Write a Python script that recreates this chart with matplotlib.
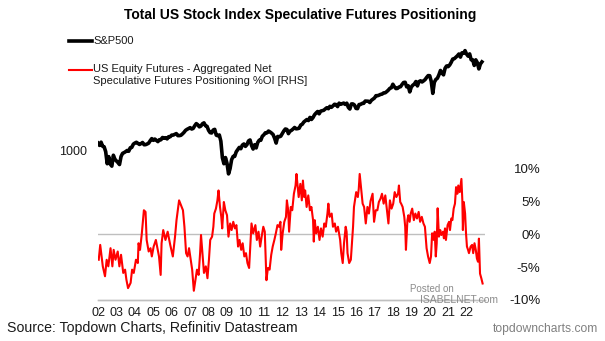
import numpy as np
import matplotlib.pyplot as plt
from matplotlib.lines import Line2D
from matplotlib.ticker import NullLocator

plt.rcParams["font.family"] = ["Liberation Sans", "DejaVu Sans"]

# ==========================
# data
# ==========================

# S&P500, month-end levels from Jan 2002
sp500_first_year = 2002.0
sp500 = [
    1130, 1090, 1147, 1077, 1067, 990, 820, 916, 815, 790, 936, 880,      # 2002
    856, 835, 810, 917, 964, 975, 990, 1008, 996, 1051, 1058, 1112,       # 2003
    1131, 1145, 1126, 1107, 1121, 1141, 1102, 1104, 1115, 1130, 1174, 1212,
    1181, 1204, 1181, 1157, 1192, 1191, 1234, 1220, 1229, 1207, 1249, 1248,
    1280, 1281, 1295, 1311, 1270, 1270, 1277, 1304, 1336, 1378, 1401, 1418,
    1438, 1407, 1421, 1482, 1531, 1503, 1455, 1474, 1527, 1549, 1481, 1468,
    1379, 1331, 1323, 1386, 1400, 1280, 1267, 1283, 1165, 900, 820, 903,  # 2008
    826, 700, 760, 873, 919, 919, 987, 1021, 1057, 1036, 1096, 1115,      # 2009
    1074, 1104, 1169, 1187, 1089, 1031, 1102, 1049, 1141, 1183, 1181, 1258,
    1286, 1327, 1326, 1364, 1345, 1321, 1292, 1219, 1131, 1253, 1247, 1258,
    1312, 1366, 1408, 1398, 1310, 1362, 1379, 1407, 1441, 1412, 1416, 1426,
    1498, 1515, 1569, 1598, 1631, 1606, 1686, 1633, 1682, 1757, 1806, 1848,
    1783, 1859, 1872, 1884, 1924, 1960, 1931, 2003, 1972, 2018, 2068, 2059,
    1995, 2105, 2068, 2086, 2107, 2063, 2104, 1972, 1920, 2079, 2080, 2044,
    1940, 1932, 2060, 2065, 2097, 2099, 2174, 2171, 2168, 2126, 2199, 2239,
    2279, 2364, 2363, 2384, 2412, 2423, 2470, 2472, 2519, 2575, 2648, 2674,
    2824, 2714, 2641, 2648, 2705, 2718, 2816, 2902, 2914, 2712, 2760, 2507,
    2704, 2784, 2834, 2946, 2752, 2942, 2980, 2926, 2977, 3038, 3141, 3231,
    3226, 2954, 2450, 2912, 3044, 3100, 3271, 3500, 3363, 3270, 3622, 3756,  # 2020
    3714, 3811, 3973, 4181, 4204, 4298, 4395, 4523, 4308, 4605, 4567, 4766,
    4516, 4374, 4530, 4132, 4132, 3785, 4130, 3955, 3586, 3872, 4000,        # 2022
]

# US equity futures net speculative positioning, % of open interest
red_years = [
    2002.04, 2002.12, 2002.26, 2002.38, 2002.47, 2002.56, 2002.68, 2002.78, 2002.85, 2002.95,
    2003.07, 2003.16, 2003.25, 2003.37, 2003.47, 2003.54, 2003.63, 2003.77, 2003.85, 2003.94,
    2004.06, 2004.16, 2004.2, 2004.28, 2004.37, 2004.49, 2004.58, 2004.64, 2004.75, 2004.85, 2004.92,
    2005.02, 2005.14, 2005.31, 2005.4, 2005.45, 2005.54, 2005.66, 2005.78, 2005.92,
    2006.06, 2006.18, 2006.26, 2006.4, 2006.61, 2006.69, 2006.78, 2006.86, 2006.94,
    2007.03, 2007.11, 2007.2, 2007.29, 2007.37, 2007.46, 2007.54, 2007.59, 2007.68, 2007.75, 2007.85, 2007.94,
    2008.02, 2008.09, 2008.19, 2008.26, 2008.31, 2008.4, 2008.48, 2008.54, 2008.62, 2008.69, 2008.74, 2008.83, 2008.91,
    2009.0, 2009.08, 2009.17, 2009.25, 2009.34, 2009.43, 2009.51, 2009.6, 2009.68, 2009.77, 2009.85, 2009.94,
    2010.03, 2010.11, 2010.2, 2010.28, 2010.33, 2010.42, 2010.54, 2010.62, 2010.71, 2010.8, 2010.88, 2010.97,
    2011.05, 2011.14, 2011.22, 2011.31, 2011.4, 2011.48, 2011.57, 2011.65, 2011.74, 2011.82, 2011.9, 2011.94,
    2012.02, 2012.11, 2012.2, 2012.25, 2012.32, 2012.37, 2012.46, 2012.54, 2012.63, 2012.72, 2012.77, 2012.84, 2012.89, 2012.98,
    2013.06, 2013.12, 2013.19, 2013.24, 2013.32, 2013.41, 2013.5, 2013.58, 2013.67, 2013.71, 2013.76, 2013.84, 2013.93,
    2014.02, 2014.1, 2014.19, 2014.28, 2014.36, 2014.45, 2014.5, 2014.57, 2014.68, 2014.75, 2014.85, 2014.92,
    2015.02, 2015.14, 2015.2, 2015.28, 2015.35, 2015.44, 2015.49, 2015.54, 2015.63, 2015.72, 2015.79, 2015.84, 2015.89,
    2016.01, 2016.1, 2016.15, 2016.2, 2016.27, 2016.36, 2016.44, 2016.53, 2016.62, 2016.7, 2016.79, 2016.9, 2016.98,
    2017.07, 2017.16, 2017.24, 2017.33, 2017.41, 2017.5, 2017.59, 2017.67, 2017.76, 2017.84, 2017.93,
    2018.02, 2018.1, 2018.19, 2018.28, 2018.33, 2018.4, 2018.45, 2018.53, 2018.62, 2018.67, 2018.71, 2018.79, 2018.84, 2018.91, 2018.97,
    2019.05, 2019.14, 2019.22, 2019.31, 2019.4, 2019.48, 2019.57, 2019.66, 2019.74, 2019.83, 2019.91,
    2020.0, 2020.07, 2020.13, 2020.22, 2020.27, 2020.33, 2020.38, 2020.43, 2020.5, 2020.57, 2020.63, 2020.72, 2020.77, 2020.83, 2020.88, 2020.97,
    2021.05, 2021.1, 2021.17, 2021.23, 2021.3, 2021.37, 2021.43, 2021.5, 2021.55, 2021.63, 2021.72, 2021.77, 2021.8, 2021.85, 2021.92, 2021.97,
    2022.02, 2022.08, 2022.13, 2022.22, 2022.3, 2022.36, 2022.43, 2022.5, 2022.56, 2022.62, 2022.67, 2022.73, 2022.8, 2022.87,
]
red_pct = [
    -3.9, -1.65, -4.9, -6.4, -3.9, -4.9, -2.15, -4.9, -2.4, -3.9,
    -2.65, -4.9, -3.15, -5.9, -5.4, -6.9, -8.2, -7.4, -5.4, -5.9,
    -3.9, -4.4, -1.4, -2.4, -0.15, 3.6, 3.35, -0.9, -2.65, -2.15, -3.4,
    -1.9, -0.9, -3.4, -6.2, -1.4, 0.6, -0.9, 0.35, -1.65,
    -3.4, -0.4, 2.1, 5.1, 3.6, 1.1, -2.9, -3.4, -2.15,
    -3.9, -5.4, -8.6, -6.9, -5.4, -6.2, -2.9, -0.15, -3.4, -5.9, -4.9, -6.7,
    -3.9, -0.9, -0.4, 1.1, 3.1, 3.85, 5.1, 6.6, 4.1, 2.6, 0.85, 4.85, 3.6,
    2.85, -0.4, 1.6, 0.6, 1.85, 0.85, 1.35, -1.9, -0.9, -2.4, -1.4, -3.4,
    -2.9, -4.4, -5.15, -0.9, 1.6, 0.1, 1.35, -0.9, 0.35, -1.9, -0.4, 1.1,
    0.35, -7.0, -5.15, -5.4, -3.15, -1.9, -0.9, 0.1, 1.35, 1.1, 1.85, -2.4,
    0.1, 1.85, 2.6, 5.1, 3.6, 0.35, 4.1, 3.6, 6.1, 7.35, 9.1, 7.1, 5.6, 7.6,
    5.1, 8.1, 5.6, 6.6, 4.1, 5.85, 3.6, 4.1, 2.1, -1.15, 2.1, 0.1, 1.1,
    -0.9, 0.85, -0.4, 1.6, 1.1, 3.1, 4.6, 2.6, 3.1, 1.1, 1.6, 0.35,
    1.1, -0.9, -2.9, -4.4, -1.4, 1.1, 0.35, -2.9, -4.4, -3.9, -0.9, 1.1, 4.1,
    6.35, 5.6, 6.85, 9.1, 7.1, 4.6, 4.1, 1.6, 4.1, 3.1, 5.0, 6.1, 1.85,
    3.6, 3.6, 4.85, 5.35, 6.1, 4.6, 5.85, 3.85, 1.6, 5.1, 3.85,
    4.6, 6.35, 5.6, 6.1, 7.35, 4.85, 4.6, 4.1, 2.6, 1.1, -2.4, 2.1, 2.85, 1.85, 3.1,
    3.85, 2.1, 3.1, 2.35, 3.35, 1.85, 2.6, 1.6, 1.1, -2.15, -3.4,
    -4.4, -3.4, 0.1, -0.9, 0.35, -3.4, -1.4, 3.9, -0.4, 0.6, -0.15, 0.35, -0.65, 0.85, -0.9, 1.35,
    1.85, 0.6, 2.35, 2.1, 3.85, 4.6, 7.1, 6.1, 7.35, 6.35, 8.35, 5.1, 0.6, 4.85, 3.1, 0.1,
    -1.9, -2.4, -2.9, -1.9, -1.65, -2.9, -1.4, -2.4, -3.7, -4.2, -0.7, -6.0, -6.7, -7.5,
]

year_ticks = list(range(2002, 2023))
year_labels = [f"{y % 100:02d}" for y in year_ticks]
rhs_ticks = [-10, -5, 0, 5, 10]
lhs_ticks = [1000]

sp_x = sp500_first_year + np.arange(len(sp500)) / 12.0

# ==========================
# figure
# ==========================
W_PX, H_PX = 605, 341
fig = plt.figure(figsize=(W_PX / 100, H_PX / 100), dpi=100)
ax = fig.add_axes([98 / W_PX, 41 / H_PX, 387 / W_PX, 260 / H_PX])
ax2 = ax.twinx()

grey = "#BFBFBF"
txt = "#1A1A1A"

ax.plot(sp_x, sp500, color="black", linewidth=2.6, solid_joinstyle="round")
ax2.axhline(0, color=grey, linewidth=1.0, zorder=0)
ax2.plot(red_years, red_pct, color="#FF0000", linewidth=1.5)

ax.set_xlim(2002, 2023)
ax.set_yscale("log")
ax.set_ylim(98.4, 5623)
ax.yaxis.set_minor_locator(NullLocator())
ax.set_yticks(lhs_ticks)
ax.set_yticklabels([str(v) for v in lhs_ticks])
ax.set_xticks(year_ticks)
ax.set_xticklabels(year_labels)
ax.tick_params(axis="y", length=0, pad=8, labelsize=9, colors=txt)
ax.tick_params(axis="x", length=0, pad=5, labelsize=9, colors=txt)

ax2.set_ylim(-10, 29.4)
ax2.set_yticks(rhs_ticks)
ax2.set_yticklabels([f"{v}%" for v in rhs_ticks], ha="right")
ax2.tick_params(axis="y", length=0, pad=40, labelsize=9.5, colors=txt)

for a in (ax, ax2):
    for side in ("left", "right", "top"):
        a.spines[side].set_visible(False)
    a.spines["bottom"].set_color(grey)
    a.spines["bottom"].set_linewidth(1.0)


def fx(px):
    return px / W_PX


def fy(py):
    return 1 - py / H_PX


# legend
fig.add_artist(Line2D([fx(69), fx(92)], [fy(41), fy(41)], color="black", linewidth=2.6))
fig.text(fx(93), fy(41), "S&P500", fontsize=8, va="center", ha="left", color=txt)
fig.add_artist(Line2D([fx(69), fx(92)], [fy(70), fy(70)], color="#FF0000", linewidth=1.5))
fig.text(fx(93), fy(64), "US Equity Futures - Aggregated Net\nSpeculative Futures Positioning %OI [RHS]",
         fontsize=8, va="top", ha="left", linespacing=1.2, color=txt)

# titles and notes
fig.text(fx(300), fy(15), "Total US Stock Index Speculative Futures Positioning",
         fontsize=10, fontweight="bold", ha="center", va="center")
fig.text(fx(7), fy(328), "Source: Topdown Charts, Refinitiv Datastream",
         fontsize=10.2, ha="left", va="center", color=txt)
fig.text(fx(598), fy(329), "topdowncharts.com", fontsize=8.7, ha="right", va="center", color="#808080")
fig.text(fx(410), fy(289), "Posted on", fontsize=7, ha="left", va="center", color="#8C8C8C")
fig.text(fx(420), fy(300), "ISABELNET.com", fontsize=7.5, ha="left", va="center", color="#8C8C8C")

fig.savefig("out.png", dpi=100)
